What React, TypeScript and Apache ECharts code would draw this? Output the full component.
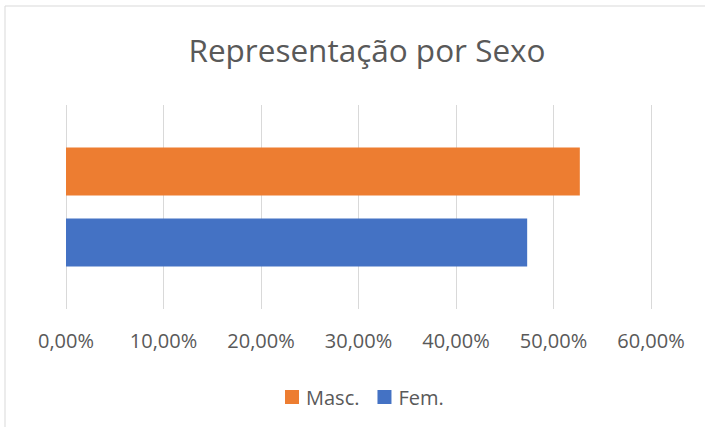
import React, { useEffect, useRef } from "react";
import * as echarts from "echarts";

const categories = ["Sexo"];
const seriesNames = ["Masc.", "Fem."];
const mascValues = [52.7];
const femValues = [47.3];
const colors = ["#ED7D31", "#4472C4"];
const titleText = "Representação por Sexo";

const fmt = (v: number) => v.toFixed(2).replace(".", ",") + "%";

export default function App() {
  const ref = useRef<HTMLDivElement>(null);
  useEffect(() => {
    if (!ref.current) return;
    const chart = echarts.init(ref.current, undefined, { renderer: "svg" });
    const font = "'Open Sans', sans-serif";
    chart.setOption({
      animation: false,
      backgroundColor: "#ffffff",
      textStyle: { fontFamily: font },
      title: {
        text: titleText,
        left: 362,
        textAlign: "center",
        top: 28,
        textStyle: { fontFamily: font, fontSize: 31.5, fontWeight: "normal", color: "#595959" },
      },
      graphic: [
        {
          type: "rect",
          shape: { x: 5, y: 6, width: 720, height: 440 },
          style: { fill: "none", stroke: "#d9d9d9", lineWidth: 1 },
          silent: true,
        },
      ],
      legend: {
        data: seriesNames,
        top: 387,
        left: 285,
        padding: 0,
        itemWidth: 14,
        itemHeight: 14,
        itemGap: 18,
        icon: "rect",
        textStyle: { fontFamily: font, fontSize: 20, color: "#595959", padding: [0, 0, 0, 2] },
      },
      grid: { left: 66, right: 54, top: 105, bottom: 118, containLabel: false },
      xAxis: {
        type: "value",
        min: 0,
        max: 60,
        interval: 10,
        axisLine: { show: false },
        axisTick: { show: false },
        splitLine: { show: true, lineStyle: { color: "#d9d9d9", width: 1 } },
        axisLabel: {
          formatter: (v: number) => fmt(v),
          fontFamily: font,
          fontSize: 20,
          color: "#595959",
          margin: 21,
        },
      },
      yAxis: {
        type: "category",
        data: categories,
        axisLine: { show: false },
        axisTick: { show: false },
        axisLabel: { show: false },
      },
      series: [
        {
          name: seriesNames[0],
          type: "bar",
          data: mascValues,
          barWidth: 48,
          barGap: "48%",
          itemStyle: { color: colors[0] },
        },
        {
          name: seriesNames[1],
          type: "bar",
          data: femValues,
          barWidth: 48,
          barGap: "48%",
          itemStyle: { color: colors[1] },
        },
      ],
    });
    return () => chart.dispose();
  }, []);
  return (
    <div
      ref={ref}
      style={{ position: "absolute", left: 0, top: 0, width: 705, height: 427 }}
    />
  );
}
